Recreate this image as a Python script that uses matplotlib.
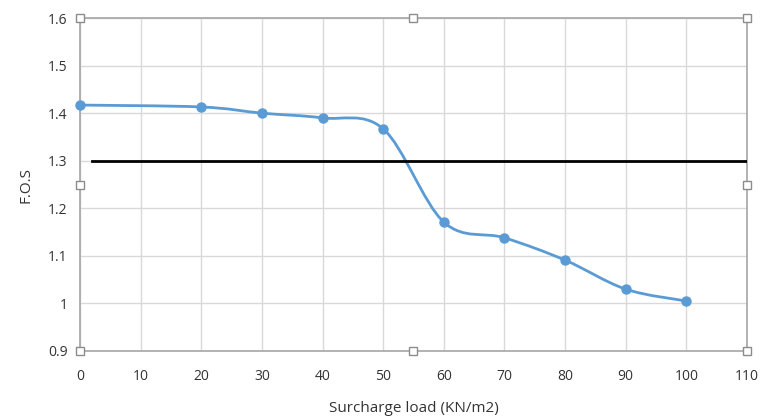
import matplotlib.pyplot as plt
from matplotlib.path import Path
from matplotlib.patches import PathPatch

load = [0, 20, 30, 40, 50, 60, 70, 80, 90, 100]
fos = [1.417, 1.413, 1.400, 1.390, 1.367, 1.171, 1.138, 1.091, 1.030, 1.005]
limit_x = [2, 110]
limit_y = [1.3, 1.3]

plt.rcParams['font.family'] = ['Open Sans', 'DejaVu Sans']

fig = plt.figure(figsize=(7.76, 4.17), dpi=100)
ax = fig.add_axes([0.1031, 0.1583, 0.8595, 0.7985])

blue = '#5b9bd5'

# smooth line like Excel (catmull-rom as cubic bezier)
verts = [(load[0], fos[0])]
codes = [Path.MOVETO]
n = len(load)
for i in range(n - 1):
    p0 = (load[max(i - 1, 0)], fos[max(i - 1, 0)])
    p1 = (load[i], fos[i])
    p2 = (load[i + 1], fos[i + 1])
    p3 = (load[min(i + 2, n - 1)], fos[min(i + 2, n - 1)])
    c1 = (p1[0] + (p2[0] - p0[0]) / 6, p1[1] + (p2[1] - p0[1]) / 6)
    c2 = (p2[0] - (p3[0] - p1[0]) / 6, p2[1] - (p3[1] - p1[1]) / 6)
    verts += [c1, c2, p2]
    codes += [Path.CURVE4] * 3
ax.add_patch(PathPatch(Path(verts, codes), facecolor='none', edgecolor=blue, lw=2, zorder=3))
ax.plot(load, fos, 'o', color=blue, ms=6.5, zorder=4, clip_on=False)

ax.plot(limit_x, limit_y, color='black', lw=2, zorder=3)

ax.set_xlim(0, 110)
ax.set_ylim(0.9, 1.6)
ax.set_xticks(range(0, 111, 10))
ax.set_yticks([0.9, 1.0, 1.1, 1.2, 1.3, 1.4, 1.5, 1.6])
ax.set_yticklabels(['0.9', '1', '1.1', '1.2', '1.3', '1.4', '1.5', '1.6'])
ax.grid(True, color='#d9d9d9', lw=1)
ax.set_axisbelow(True)
for s in ax.spines.values():
    s.set_color('#a6a6a6')
    s.set_linewidth(1.2)
ax.tick_params(length=0, labelsize=10, colors='#333333', pad=9)
ax.tick_params(axis='x', pad=13)

ax.set_xlabel('Surcharge load (KN/m2)', fontsize=11, color='#333333', labelpad=12)
ax.set_ylabel('F.O.S', fontsize=11, color='#333333', labelpad=10)

# selection handles
hx = [0, 55, 110, 0, 110, 0, 55, 110]
hy = [1.6, 1.6, 1.6, 1.25, 1.25, 0.9, 0.9, 0.9]
ax.plot(hx, hy, 's', ms=5.5, mfc='white', mec='#8c8c8c', mew=1, clip_on=False, zorder=5)

fig.savefig('out.png', dpi=100)
